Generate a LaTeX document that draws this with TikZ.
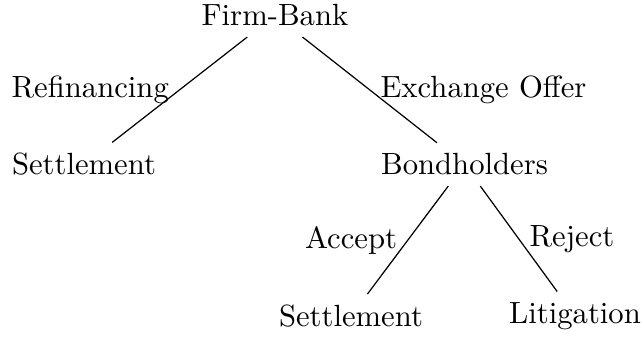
\documentclass[tikz,border=0pt]{standalone}
\usepackage{amsmath}
\usetikzlibrary{positioning}
\tikzset{%
  movearc/.style = {-,solid},
  player/.style = {rectangle,inner sep=3.33pt},
  outcome/.style = {rectangle,inner sep=3.33pt}
}

\begin{document}
\begin{tikzpicture}[x=0.01146cm,y=-0.01146cm]
        \useasboundingbox (0,0) rectangle (644,337);
        \node[player] (firm) at (275,15.4) {Firm-Bank};
        \node[outcome] (settle-1) at (84,164.4) {Settlement};
        \node[player] (bond) at (464.5,164.4) {Bondholders};
        \node[outcome] (settle-2) at (351,316) {Settlement};
        \node[outcome] (litig) at (575,316) {Litigation};

        \draw[movearc] (firm) -- node[left] {Refinancing} (settle-1);
        \draw[movearc] (firm) -- node[right] {Exchange Offer} (bond);
        \draw[movearc] (bond) -- node[left] {Accept} (settle-2);
        \draw[movearc] (bond) -- node[right] {Reject} (litig);
        
    \end{tikzpicture}
\end{document}
